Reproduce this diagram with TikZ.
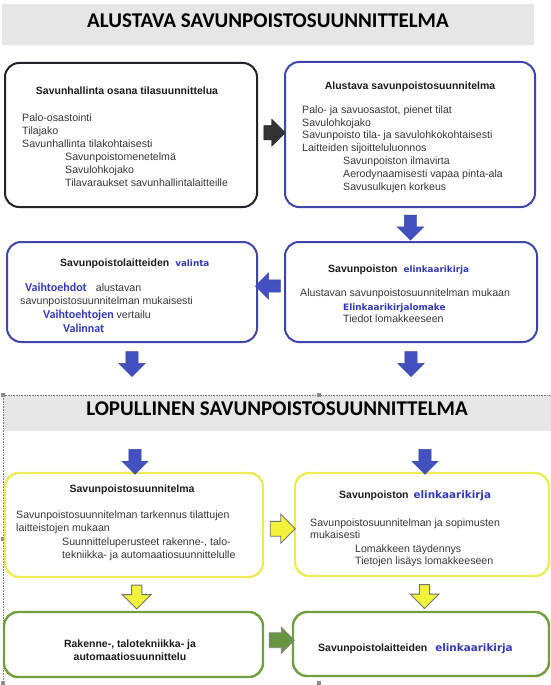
\documentclass[tikz,border=0pt]{standalone}
\usepackage{fontspec}
\setmainfont{Liberation Sans}
\newfontfamily\calfont{Carlito}
\newfontfamily\verfont{DejaVu Sans}
\usetikzlibrary{shapes.arrows,calc}
\definecolor{barGray}{RGB}{230,230,230}
\definecolor{boxDark}{RGB}{35,35,42}
\definecolor{boxBlue}{RGB}{62,70,168}
\definecolor{txtBlue}{RGB}{52,56,188}
\definecolor{arrBlue}{RGB}{66,80,192}
\definecolor{boxYellow}{RGB}{236,236,88}
\definecolor{arrYellow}{RGB}{242,242,58}
\definecolor{boxGreen}{RGB}{112,160,62}
\definecolor{arrGreen}{RGB}{104,150,64}
\definecolor{txtGray}{RGB}{55,55,55}
\definecolor{headDark}{RGB}{28,28,28}
\newcommand{\bw}[1]{{\verfont\bfseries\color{txtBlue}#1}}
\newcommand{\bc}[1]{{\calfont\bfseries\color{txtBlue}#1}}
\begin{document}
\begin{tikzpicture}[x=1pt,y=-1pt,
  bar/.style={fill=barGray, draw=none, inner sep=0pt},
  ttl/.style={inner sep=0pt, font=\calfont\bfseries\fontsize{21}{25}\selectfont, text=black},
  box/.style={draw, rounded corners=14pt, line width=2pt, fill=white, inner sep=0pt},
  dbox/.style={box, draw=boxDark},
  bbox/.style={box, draw=boxBlue},
  ybox/.style={box, draw=boxYellow, line width=2.4pt},
  gbox/.style={box, draw=boxGreen, line width=2.4pt},
  txt/.style={anchor=base west, inner sep=0pt, font=\fontsize{10.6}{12}\selectfont, text=txtGray},
  hd/.style={anchor=base, inner sep=0pt, font=\bfseries\fontsize{10.5}{12}\selectfont, text=headDark},
  hdw/.style={hd, anchor=base west},
  barrow/.style={single arrow, single arrow tip angle=90, inner sep=6pt, single arrow head extend=7pt,
    minimum height=25pt, fill=arrBlue, draw=arrBlue!85!black, line width=0.4pt},
  karrow/.style={single arrow, single arrow tip angle=90, inner sep=7pt, single arrow head extend=6.5pt,
    minimum height=21pt, fill=black!80, draw=black!90, line width=0.4pt},
  yarrow/.style={single arrow, single arrow tip angle=90, inner sep=4.7pt, single arrow head extend=9.3pt,
    minimum height=24pt, fill=arrYellow, draw=black!55, line width=0.9pt},
  garrow/.style={single arrow, single arrow tip angle=90, inner sep=7pt, single arrow head extend=5.5pt,
    minimum height=25pt, fill=arrGreen, draw=black!50, line width=0.9pt},
  handle/.style={fill=black!45, inner sep=0pt, minimum size=3.5pt}
]
\useasboundingbox (0,0) rectangle (551,685);
\fill[white] (0,0) rectangle (551,685);

% ---------- Section 1 ----------
\node[bar, minimum width=532pt, minimum height=41pt] (bar1) at (268,24.5) {};
\node[ttl] (title1) at ($(bar1.center)+(0,-3.5)$) {ALUSTAVA SAVUNPOISTOSUUNNITTELMA};

\node[dbox, minimum width=252pt, minimum height=144pt] (b1) at (131,135) {};
\node[bbox, minimum width=250pt, minimum height=145pt] (b2) at (410,134.5) {};
\node[bbox, minimum width=250pt, minimum height=100pt] (b3) at (132,292) {};
\node[bbox, minimum width=252pt, minimum height=100pt] (b4) at (411,292) {};

% box 1 text
\node[hd] (b1h) at (127,94) {Savunhallinta osana tilasuunnittelua};
\node[txt] (b1l1) at (22,121) {Palo-osastointi};
\node[txt] (b1l2) at (22,134) {Tilajako};
\node[txt] (b1l3) at (22,147) {Savunhallinta tilakohtaisesti};
\node[txt] (b1l4) at (65,160) {Savunpoistomenetelmä};
\node[txt] (b1l5) at (65,173) {Savulohkojako};
\node[txt] (b1l6) at (65,186) {Tilavaraukset savunhallintalaitteille};

% box 2 text
\node[hd] (b2h) at (410,89) {Alustava savunpoistosuunnitelma};
\node[txt] (b2l1) at (302,113) {Palo- ja savuosastot, pienet tilat};
\node[txt] (b2l2) at (302,126) {Savulohkojako};
\node[txt] (b2l3) at (302,138.5) {Savunpoisto tila- ja savulohkokohtaisesti};
\node[txt] (b2l4) at (302,151) {Laitteiden sijoitteluluonnos};
\node[txt] (b2l5) at (343,164) {Savunpoiston ilmavirta};
\node[txt] (b2l6) at (343,177) {Aerodynaamisesti vapaa pinta-ala};
\node[txt] (b2l7) at (343,190) {Savusulkujen korkeus};

% box 3 text
\node[hdw] (b3h) at (60,266) {Savunpoistolaitteiden\hspace{6pt}\bw{\fontsize{8.8}{10}\selectfont valinta}};
\node[txt] (b3l1) at (25,291) {\bc{\fontsize{12}{14}\selectfont Vaihtoehdot}\hspace{9pt}alustavan};
\node[txt] (b3l2) at (20,304) {savunpoistosuunnitelman mukaisesti};
\node[txt] (b3l3) at (43,318) {\bc{\fontsize{12}{14}\selectfont Vaihtoehtojen} vertailu};
\node[txt] (b3l4) at (63,332) {\bc{\fontsize{12}{14}\selectfont Valinnat}};

% box 4 text
\node[hdw] (b4h) at (328,272) {Savunpoiston\hspace{6pt}\bw{\fontsize{8.8}{10}\selectfont elinkaarikirja}};
\node[txt] (b4l1) at (300,296) {Alustavan savunpoistosuunnitelman mukaan};
\node[txt] (b4l2) at (343,310) {\bw{\fontsize{8.9}{10}\selectfont Elinkaarikirjalomake}};
\node[txt] (b4l3) at (343,322) {Tiedot lomakkeeseen};

% section 1 arrows
\node[karrow] (a12) at ($(b1.east)!0.5!(b2.west)+(0,-2)$) {};
\node[barrow, shape border rotate=270] (a24) at ($(b2.south)!0.5!(b4.north)$) {};
\node[barrow, shape border rotate=180] (a43) at ($(b4.west)!0.5!(b3.east)+(0,-6)$) {};
\node[barrow, shape border rotate=270] (a3d) at ($(b3.south)+(0,18)$) {};
\node[barrow, shape border rotate=270] (a4d) at ($(b4.south)+(0,18)$) {};

% ---------- Section 2 ----------
\node[bar, minimum width=548pt, minimum height=36pt] (bar2) at (277,413) {};
\node[ttl] (title2) at ($(bar2.center)+(0,-4)$) {LOPULLINEN SAVUNPOISTOSUUNNITTELMA};
\coordinate (selA) at (3,683);
\coordinate (selB) at (3,395);
\coordinate (selC) at (551,395);
\draw[densely dotted, black!50, line width=0.6pt] (selA) -- (selB) -- (selC);
\node[handle] (h1) at (3,395) {};
\node[handle] (h2) at (319,395) {};
\node[handle] (h3) at (3,539) {};
\node[handle] (h4) at (3,683) {};
\node[handle] (h5) at (319,683) {};

\node[ybox, minimum width=258pt, minimum height=104pt] (b5) at (134,525) {};
\node[ybox, minimum width=254pt, minimum height=103pt] (b6) at (422,524.5) {};
\node[gbox, minimum width=259pt, minimum height=65pt] (b7) at (133.5,644.5) {};
\node[gbox, minimum width=256pt, minimum height=64pt] (b8) at (421,644) {};

% box 5 text
\node[hd] (b5h) at (132,492) {Savunpoistosuunnitelma};
\node[txt] (b5l1) at (16,518) {Savunpoistosuunnitelman tarkennus tilattujen};
\node[txt] (b5l2) at (16,531) {laitteistojen mukaan};
\node[txt] (b5l3) at (62,545) {Suunnitteluperusteet rakenne-, talo-};
\node[txt] (b5l4) at (62,558) {tekniikka- ja automaatiosuunnittelulle};

% box 6 text
\node[hdw] (b6h) at (339,498) {Savunpoiston\hspace{5pt}\bw{\fontsize{10.4}{12}\selectfont elinkaarikirja}};
\node[txt] (b6l1) at (310,526) {Savunpoistosuunnitelman ja sopimusten};
\node[txt] (b6l2) at (310,538) {mukaisesti};
\node[txt] (b6l3) at (355,552) {Lomakkeen täydennys};
\node[txt] (b6l4) at (355,564) {Tietojen lisäys lomakkeeseen};

% box 7 / 8 text
\node[hd] (b7h1) at (130,647) {Rakenne-, talotekniikka- ja};
\node[hd] (b7h2) at (130,660) {automaatiosuunnittelu};
\node[hdw] (b8h) at (318,651) {Savunpoistolaitteiden\hspace{8pt}\bw{\fontsize{10.4}{12}\selectfont elinkaarikirja}};

% section 2 arrows
\node[barrow, shape border rotate=270] (a25) at ($(b5.north)+(1,-13)$) {};
\node[barrow, shape border rotate=270] (a26) at ($(b6.north)+(3,-13)$) {};
\node[yarrow, shape border rotate=0, inner sep=7pt, single arrow head extend=7pt, minimum height=25pt] (a56) at ($(b5.east)!0.5!(b6.west)+(0,4)$) {};
\node[yarrow, shape border rotate=270] (a57) at ($(b5.south)!0.5!(b7.north)+(3,0)$) {};
\node[yarrow, shape border rotate=270] (a68) at ($(b6.south)!0.5!(b8.north)+(3,0)$) {};
\node[garrow] (a78) at ($(b7.east)!0.5!(b8.west)+(0,-4)$) {};
\end{tikzpicture}
\end{document}
